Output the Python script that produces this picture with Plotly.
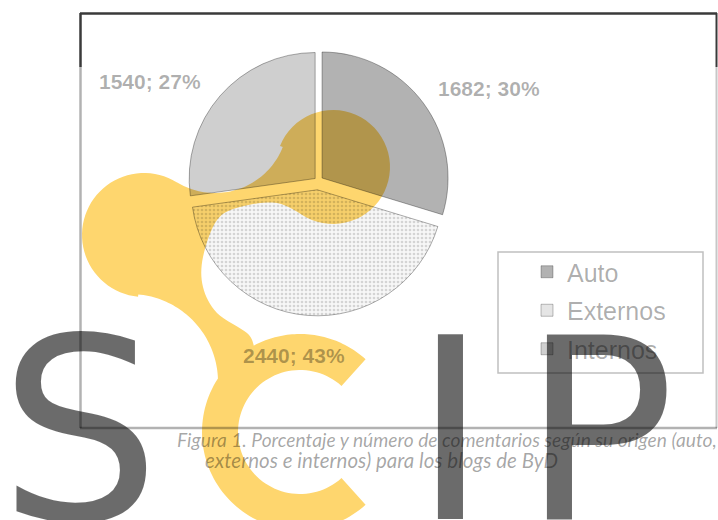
import math
import plotly.graph_objects as go

# ---------------- data ----------------
categories = ["Auto", "Externos", "Internos"]
values = [1682, 2440, 1540]
caption_lines = [
    "Figura 1. Porcentaje y número de comentarios según su origen (auto,",
    "externos e internos) para los blogs de ByD",
]

W, H = 718, 520


def px(x):
    return x / W


def py(y):
    return 1 - y / H


# washed-out look: black with alpha (acts like multiply over the yellow logo)
slice_colors = ["rgba(0,0,0,0.30)", "rgba(0,0,0,0.03)", "rgba(0,0,0,0.19)"]
legend_colors = ["rgba(0,0,0,0.30)", "rgba(0,0,0,0.10)", "rgba(0,0,0,0.19)"]
text_grey = "rgba(0,0,0,0.31)"

fig = go.Figure()

# pie geometry (pixels)
cx, cy, r = 318, 181, 126
maxpull = 0.07
half = r * (1 + maxpull)
fig.add_trace(go.Pie(
    labels=categories, values=values, sort=False, direction="clockwise", rotation=0,
    pull=[0.04, 0.07, 0.03],
    marker=dict(colors=slice_colors,
                line=dict(color="rgba(0,0,0,0.32)", width=1),
                pattern=dict(shape=["", ".", ""], fgcolor="rgba(0,0,0,0.28)",
                             size=4, solidity=0.35, fillmode="overlay")),
    textinfo="none", hoverinfo="label+value+percent", showlegend=False,
    domain=dict(x=[px(cx - half), px(cx + half)], y=[py(cy + half), py(cy - half)]),
))

# legend entries
for i, (cat, col) in enumerate(zip(categories, legend_colors)):
    fig.add_trace(go.Scatter(
        x=[None], y=[None], mode="markers", name=cat, legendgroup=cat,
        marker=dict(symbol="square", size=12, color=col,
                    line=dict(color="rgba(0,0,0,0.25)", width=1)),
    ))

# ---------------- watermark logo path ----------------
def arc(ccx, ccy, rr, a0, a1, n=48):
    out = []
    for k in range(n + 1):
        a = math.radians(a0 + (a1 - a0) * k / n)
        out.append((ccx + rr * math.cos(a), ccy + rr * math.sin(a)))
    return out


def catmull(points, n=8):
    out = []
    m = len(points)
    for i in range(m - 1):
        p0 = points[max(i - 1, 0)]
        p1 = points[i]
        p2 = points[i + 1]
        p3 = points[min(i + 2, m - 1)]
        for k in range(n):
            t = k / n
            t2, t3 = t * t, t * t * t
            x = 0.5 * ((2 * p1[0]) + (-p0[0] + p2[0]) * t + (2 * p0[0] - 5 * p1[0] + 4 * p2[0] - p3[0]) * t2 + (-p0[0] + 3 * p1[0] - 3 * p2[0] + p3[0]) * t3)
            y = 0.5 * ((2 * p1[1]) + (-p0[1] + p2[1]) * t + (2 * p0[1] - 5 * p1[1] + 4 * p2[1] - p3[1]) * t2 + (-p0[1] + 3 * p1[1] - 3 * p2[1] + p3[1]) * t3)
            out.append((x, y))
    out.append(points[-1])
    return out


logo = []
logo += arc(215, 120, 73, 121.6, 21.8)
logo += arc(333, 167, 57, 201.6, 477.6)
logo += catmull([(306.6, 217.5), (277, 203), (240, 207), (217, 220), (203, 257),
                 (203, 287), (217, 313), (247, 333), (254, 346)])
logo += arc(300, 432, 98, 242, 312)
logo += arc(300, 432, 62, 312, 48, n=80)
logo += arc(300, 432, 98, 48, 213, n=70)
logo += arc(130, 382, 88, -2.3, -84.6)
logo += arc(144, 235, 62, 95.5, 301.7)
path = "M " + " L ".join(f"{px(x):.5f},{py(y):.5f}" for x, y in logo) + " Z"

shapes = [
    dict(type="path", path=path, xref="paper", yref="paper", layer="below",
         fillcolor="#fed66e", line=dict(width=0)),
    # chart frame (dark above the wash line, light below)
    dict(type="line", xref="paper", yref="paper", x0=px(80), x1=px(717), y0=py(13.5), y1=py(13.5),
         line=dict(color="#3a3a3a", width=2.5)),
    dict(type="line", xref="paper", yref="paper", x0=px(80.5), x1=px(80.5), y0=py(13), y1=py(67),
         line=dict(color="#3a3a3a", width=2.5)),
    dict(type="line", xref="paper", yref="paper", x0=px(80.5), x1=px(80.5), y0=py(67), y1=py(428),
         line=dict(color="rgba(0,0,0,0.30)", width=2.5)),
    dict(type="line", xref="paper", yref="paper", x0=px(80), x1=px(717), y0=py(428), y1=py(428),
         line=dict(color="rgba(0,0,0,0.30)", width=2.5)),
    dict(type="line", xref="paper", yref="paper", x0=px(716.5), x1=px(716.5), y0=py(67), y1=py(428),
         line=dict(color="rgba(0,0,0,0.22)", width=2)),
    dict(type="line", xref="paper", yref="paper", x0=px(716.5), x1=px(716.5), y0=py(13), y1=py(67),
         line=dict(color="#3a3a3a", width=2)),
    # legend box
    dict(type="rect", xref="paper", yref="paper", x0=px(498), x1=px(703), y0=py(252), y1=py(373),
         line=dict(color="rgba(0,0,0,0.25)", width=1.5), fillcolor="rgba(0,0,0,0)"),
]

annotations = []
# data labels
total = sum(values)
label_pos = {"Auto": (489, 88), "Externos": (294, 355), "Internos": (150, 81)}
for cat, v in zip(categories, values):
    lx, ly = label_pos[cat]
    annotations.append(dict(
        x=px(lx), y=py(ly), xref="paper", yref="paper", showarrow=False,
        text=f"{v}; {round(100 * v / total)}%",
        font=dict(family="Liberation Sans, Arial", size=21, color=text_grey, weight="bold"),
        xanchor="center", yanchor="middle"))

# caption
cap_col = "rgba(0,0,0,0.36)"
annotations.append(dict(x=px(175), y=py(439), xref="paper", yref="paper", showarrow=False,
                        text=caption_lines[0], xanchor="left", yanchor="middle",
                        font=dict(family="Lato", size=19.2, style="italic", color=cap_col)))
annotations.append(dict(x=px(203), y=py(460), xref="paper", yref="paper", showarrow=False,
                        text=caption_lines[1], xanchor="left", yanchor="middle",
                        font=dict(family="Lato", size=20.5, style="italic", color=cap_col)))

# watermark letters
for ch, xc in [("S", 79), ("I", 450), ("P", 598)]:
    annotations.append(dict(x=px(xc), y=py(281), xref="paper", yref="paper", showarrow=False,
                            text=ch, xanchor="center", yanchor="top",
                            font=dict(family="DejaVu Sans", size=254, color="rgba(0,0,0,0.58)")))

fig.update_layout(
    width=W, height=H, autosize=False,
    margin=dict(l=0, r=0, t=0, b=0, pad=0),
    paper_bgcolor="white", plot_bgcolor="white",
    xaxis=dict(visible=False), yaxis=dict(visible=False),
    showlegend=True,
    legend=dict(x=px(527), y=py(249), xanchor="left", yanchor="top",
                bgcolor="rgba(0,0,0,0)", borderwidth=0, tracegroupgap=3,
                font=dict(family="Liberation Sans, Arial", size=25, color="rgba(0,0,0,0.33)")),
    shapes=shapes, annotations=annotations,
)

fig.write_html("out.html", config={"displayModeBar": False},
               post_script="document.body.style.margin='0px';")
